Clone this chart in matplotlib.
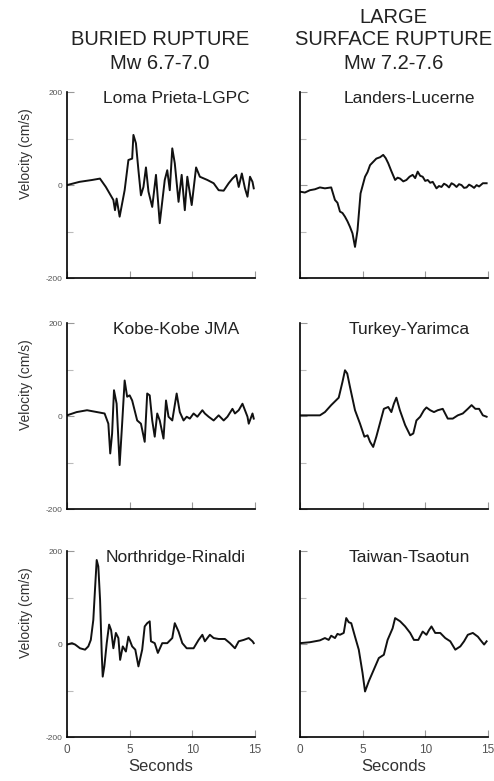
import matplotlib
matplotlib.use('Agg')
import matplotlib.pyplot as plt
from matplotlib.ticker import MultipleLocator

plt.rcParams['font.family'] = ['Liberation Sans', 'DejaVu Sans']
plt.rcParams['axes.unicode_minus'] = False

loma_t = [0, 1.0, 2.0, 2.63, 3.1, 3.7, 3.83, 3.96, 4.2, 4.6, 4.9, 5.2, 5.3, 5.5, 5.7, 5.9,
          6.1, 6.3, 6.5, 6.8, 7.1, 7.4, 7.8, 8.0, 8.2, 8.4, 8.6, 8.9, 9.15, 9.4, 9.6,
          9.95, 10.3, 10.6, 11.2, 11.7, 12.1, 12.5, 12.9, 13.2, 13.5, 13.7, 13.95,
          14.2, 14.4, 14.6, 14.8, 14.9]
loma_v = [0, 7, 11, 14, -4, -32, -54, -29, -68, -11, 54, 57, 108, 90, 32, -22,
          -4, 38, -14, -47, 22, -82, 11, 32, -11, 79, 47, -36, 22, -54, 18,
          -43, 38, 18, 11, 4, -11, -12, 4, 14, 22, -4, 25,
          -7, -25, 18, 7, -7]

landers_t = [0, 0.4, 0.8, 1.2, 1.6, 2.0, 2.5, 2.8, 3.0, 3.2, 3.4, 3.6, 3.8, 4.0, 4.2,
             4.4, 4.6, 4.84, 5.0, 5.2, 5.4, 5.6, 5.85, 6.1, 6.4, 6.65, 6.85, 7.05, 7.3,
             7.6, 7.8, 8.0, 8.25, 8.5, 8.75, 9.0, 9.2, 9.4, 9.6, 9.8, 10.0, 10.2,
             10.4, 10.6, 10.9, 11.1, 11.3, 11.5, 11.7, 11.9, 12.1, 12.3, 12.5, 12.7,
             12.9, 13.1, 13.3, 13.5, 13.7, 13.9, 14.1, 14.3, 14.6, 14.9]
landers_v = [-14, -16, -11, -9, -5, -7, -5, -32, -38, -57, -60, -68, -78, -90, -104,
             -133, -97, -18, -2, 18, 28, 43, 50, 57, 60, 65, 58, 47, 30,
             11, 16, 14, 8, 11, 18, 22, 15, 29, 20, 18, 9, 11,
             5, 7, -7, -2, -4, 3, 0, -5, 4, 1, -4, 2,
             0, -6, -5, 1, -2, -6, 0, -3, 4, 4]

kobe_t = [0, 0.77, 1.6, 2.4, 3.0, 3.3, 3.45, 3.6, 3.75, 3.96, 4.2, 4.4, 4.6, 4.8, 5.0,
          5.2, 5.6, 5.9, 6.2, 6.4, 6.6, 6.8, 7.0, 7.2, 7.4, 7.7, 7.9, 8.1, 8.4, 8.75,
          9.0, 9.3, 9.55, 9.8, 10.1, 10.4, 10.8, 11.0, 11.3, 11.7, 12.1, 12.5, 12.8,
          13.2, 13.4, 13.7, 14.0, 14.4, 14.5, 14.8, 14.9]
kobe_v = [2, 9, 13, 9, 6, -16, -80, -37, 56, 27, -105, -16, 77, 42, 45,
          34, -9, -16, -55, 49, 45, -9, -44, 6, -9, -48, 34, -1, -9, 49,
          9, -9, -1, -5, 6, -1, 13, 6, -1, -9, 2, -9, -1,
          16, 6, 13, 27, -1, -16, 6, -5]

turkey_t = [0, 1.6, 2.0, 2.5, 3.1, 3.4, 3.6, 3.78, 4.0, 4.4, 4.8, 5.15, 5.4, 5.6, 5.85,
            6.1, 6.45, 6.7, 7.05, 7.3, 7.5, 7.7, 7.98, 8.4, 8.8, 9.05, 9.3, 9.6, 9.9,
            10.1, 10.4, 10.7, 11.0, 11.4, 11.8, 12.2, 12.6, 13.0, 13.4, 13.7, 14.0,
            14.3, 14.6, 14.9]
turkey_v = [2, 2, 9, 24, 40, 74, 99, 92, 63, 13, -16, -44, -41, -55, -66,
            -44, -9, 16, 20, 9, 27, 40, 13, -19, -41, -37, -9, -1, 13,
            19, 13, 9, 13, 16, -5, -5, 2, 6, 16, 24, 16,
            16, 2, -1]

north_t = [0, 0.4, 0.65, 1.04, 1.44, 1.7, 1.9, 2.1, 2.24, 2.37, 2.5, 2.64, 2.77, 2.85,
           2.98, 3.17, 3.36, 3.52, 3.7, 3.9, 4.1, 4.24, 4.45, 4.7, 4.9, 5.2, 5.45,
           5.7, 6.0, 6.2, 6.4, 6.6, 6.7, 7.0, 7.25, 7.6, 8.0, 8.4, 8.6, 8.9, 9.2,
           9.55, 10.1, 10.5, 10.8, 11.0, 11.4, 11.7, 12.1, 12.6, 13.0, 13.4, 13.7,
           14.1, 14.5, 14.8, 14.9]
north_v = [-1, 2, -1, -9, -12, -5, 9, 52, 120, 181, 167, 95, -19, -70,
           -48, 2, 42, 30, -9, 24, 13, -34, -5, -16, 16, -5, -12,
           -48, -12, 38, 45, 49, 6, 2, -19, 2, 2, 13, 45, 27, 2,
           -9, -9, 9, 20, 6, 20, 13, 11, 11, 2, -9, 6,
           9, 13, 6, 2]

taiwan_t = [0, 0.8, 1.6, 2.0, 2.3, 2.5, 2.8, 3.0, 3.2, 3.5, 3.7, 3.9, 4.1, 4.4, 4.7,
            5.0, 5.2, 5.5, 5.9, 6.3, 6.7, 7.0, 7.4, 7.6, 8.0, 8.4, 8.8, 9.1, 9.45,
            9.8, 10.1, 10.3, 10.5, 10.8, 11.2, 11.6, 12.0, 12.4, 12.8, 13.1, 13.4,
            13.8, 14.2, 14.4, 14.7, 14.9]
taiwan_v = [2, 4, 8, 13, 9, 18, 13, 22, 20, 24, 56, 47, 45, 16, -12,
            -62, -102, -80, -55, -30, -23, 9, 34, 56, 49, 38, 24, 9, 9,
            27, 20, 30, 38, 24, 24, 13, 6, -12, -5, 6, 20,
            24, 16, 9, -1, 6]

traces = [
    ('Loma Prieta-LGPC', loma_t, loma_v),
    ('Landers-Lucerne', landers_t, landers_v),
    ('Kobe-Kobe JMA', kobe_t, kobe_v),
    ('Turkey-Yarimca', turkey_t, turkey_v),
    ('Northridge-Rinaldi', north_t, north_v),
    ('Taiwan-Tsaotun', taiwan_t, taiwan_v),
]

fig = plt.figure(figsize=(4.94, 7.81), dpi=100)

lefts = [0.1356, 0.607]
bottoms = [0.644, 0.348, 0.0563]
w, h = 0.3806, 0.238

for i, (name, t, v) in enumerate(traces):
    row, col = i // 2, i % 2
    ax = fig.add_axes([lefts[col], bottoms[row], w, h])
    ax.plot(t, v, color='#111111', lw=1.4)
    ax.set_xlim(0, 15)
    ax.set_ylim(-200, 200)
    for s in ['top', 'right']:
        ax.spines[s].set_visible(False)
    for s in ['left', 'bottom']:
        ax.spines[s].set_linewidth(1.2)
    ax.set_yticks([-200, 0, 200])
    ax.yaxis.set_minor_locator(MultipleLocator(100))
    ax.set_xticks([0, 5, 10, 15])
    ax.tick_params(direction='in', length=5, width=0.8, color='#999999',
                   labelsize=6, labelcolor='#555555', pad=3)
    ax.tick_params(which='minor', direction='in', length=4, width=0.8, color='#bbbbbb')
    ax.tick_params(axis='x', labelsize=8.5, pad=5)
    if col == 0:
        ax.set_ylabel('Velocity (cm/s)', fontsize=10, color='#333333')
        ax.yaxis.set_label_coords(-0.18, 0.67)
    else:
        ax.tick_params(axis='y', labelleft=False)
    if row < 2:
        ax.tick_params(axis='x', labelbottom=False)
    else:
        ax.set_xlabel('Seconds', fontsize=12, color='#333333', labelpad=2)
    ax.text(0.58, 0.965, name, transform=ax.transAxes, ha='center', va='center',
            fontsize=12.5, color='#222222')

# Column headers
hs = 14.5
fig.text(0.324, 0.949, 'BURIED RUPTURE', ha='center', va='center', fontsize=hs, color='#222222')
fig.text(0.324, 0.919, 'Mw 6.7-7.0', ha='center', va='center', fontsize=hs, color='#222222')
fig.text(0.796, 0.977, 'LARGE', ha='center', va='center', fontsize=hs, color='#222222')
fig.text(0.796, 0.949, 'SURFACE RUPTURE', ha='center', va='center', fontsize=hs, color='#222222')
fig.text(0.796, 0.919, 'Mw 7.2-7.6', ha='center', va='center', fontsize=hs, color='#222222')

fig.savefig('out.png', dpi=100)
